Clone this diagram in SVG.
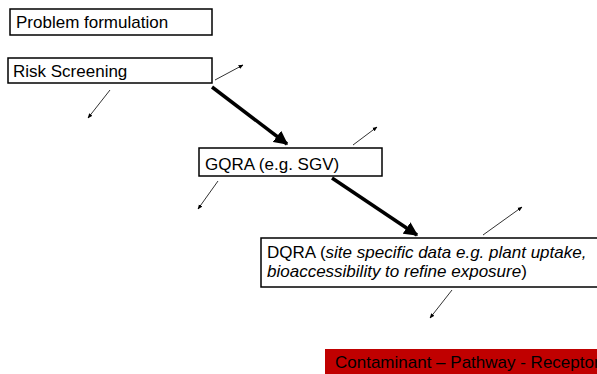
<svg xmlns="http://www.w3.org/2000/svg" width="597" height="374" viewBox="0 0 597 374">
<style>
.box{fill:#fff;stroke:#000;stroke-width:1.5}
.t{font-family:"Liberation Sans",Arial,sans-serif;font-size:17px;fill:#000}
.thin{stroke:#333;stroke-width:1;fill:none;marker-end:url(#sm)}
.thick{stroke:#000;stroke-width:3.5;fill:none;marker-end:url(#big)}
</style>
<defs>
<marker id="sm" viewBox="0 0 10 10" refX="9" refY="5" markerWidth="5" markerHeight="5" markerUnits="strokeWidth" orient="auto">
<path d="M0,1 L10,5 L0,9 z" fill="#000"/>
</marker>
<marker id="big" viewBox="0 0 10 10" refX="9" refY="5" markerWidth="4" markerHeight="4" markerUnits="strokeWidth" orient="auto">
<path d="M0,0 L10,5 L0,10 z" fill="#000"/>
</marker>
</defs>
<rect width="597" height="374" fill="#fff"/>
<g id="connectors">
<line class="thin" x1="215" y1="80" x2="243" y2="65"/>
<line class="thin" x1="110" y1="90" x2="88" y2="118"/>
<line class="thin" x1="353" y1="145" x2="377" y2="127"/>
<line class="thin" x1="218" y1="181" x2="198" y2="209"/>
<line class="thin" x1="483" y1="235" x2="522" y2="207"/>
<line class="thin" x1="452" y1="290" x2="430" y2="318"/>
<line class="thick" x1="212" y1="87" x2="287" y2="144"/>
<line class="thick" x1="332" y1="178" x2="417" y2="235"/>
</g>
<g id="problem">
<rect class="box" x="10" y="9" width="202" height="26"/>
<text class="t" x="16" y="28">Problem formulation</text>
</g>
<g id="risk">
<rect class="box" x="8" y="58" width="204" height="25"/>
<text class="t" x="13" y="77">Risk Screening</text>
</g>
<g id="gqra">
<rect class="box" x="199" y="148" width="183" height="28"/>
<text class="t" x="205" y="170">GQRA (e.g. SGV)</text>
</g>
<g id="dqra">
<rect class="box" x="261" y="238" width="345" height="49"/>
<text class="t" x="267" y="258">DQRA (<tspan font-style="italic">site specific data e.g. plant uptake,</tspan></text>
<text class="t" x="267" y="277"><tspan font-style="italic">bioaccessibility to refine exposure</tspan>)</text>
</g>
<g id="cpr">
<rect x="325" y="349" width="280" height="30" fill="#c00000"/>
<text class="t" x="335" y="368">Contaminant – Pathway - Receptor</text>
</g>
</svg>
